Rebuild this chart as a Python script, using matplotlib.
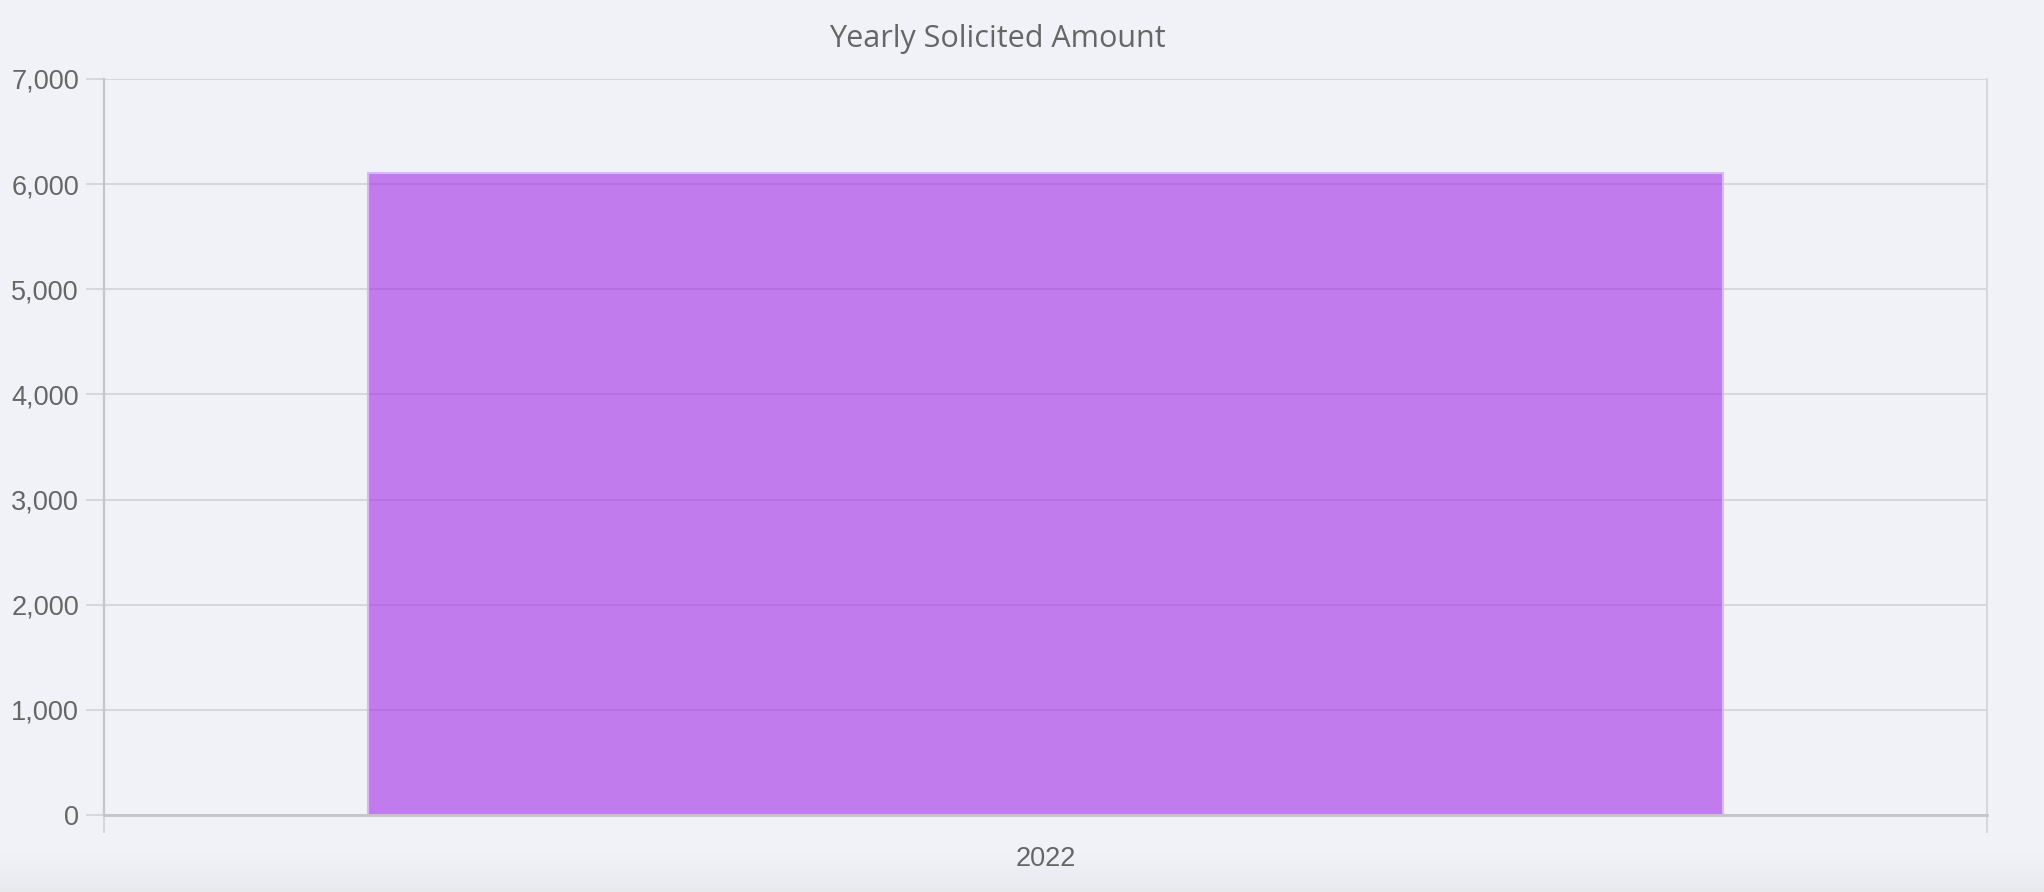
import matplotlib
matplotlib.use("Agg")
import matplotlib.pyplot as plt
import numpy as np
from matplotlib.ticker import FuncFormatter, FixedLocator

# ---- data ----
categories = ["2022"]
solicited_amount = [6105]
y_ticks = [0, 1000, 2000, 3000, 4000, 5000, 6000, 7000]
title_text = "Yearly Solicited Amount"

BG = "#f1f2f7"
TXT = "#666666"
GRID = "#d6d6dd"
AXIS = "#c4c4ca"
BAR_RGB = (161/255, 44/255, 230/255)
EDGE = "#d9b7f2"

W, H, DPI = 2044, 892, 100
fig = plt.figure(figsize=(W/DPI, H/DPI), dpi=DPI, facecolor=BG)

# bottom gradient of page background
bg_ax = fig.add_axes([0, 0, 1, 1], zorder=-10)
grad = np.ones((H, 1, 3))
top_c = np.array([241, 242, 247]) / 255
bot_c = np.array([232, 233, 237]) / 255
start = 852
for r in range(H):
    if r < start:
        grad[r, 0] = top_c
    else:
        t = (r - start) / (H - start)
        grad[r, 0] = top_c * (1 - t) + bot_c * t
bg_ax.imshow(grad, aspect="auto", extent=[0, 1, 0, 1], origin="upper")
bg_ax.axis("off")

L, R, T, B = 104, 1987, 79, 815
ax = fig.add_axes([L/W, 1 - B/H, (R-L)/W, (B-T)/H])
ax.set_facecolor("none")

x = np.arange(len(categories))
ax.bar(x, solicited_amount, width=0.72, color=(*BAR_RGB, 0.6),
       edgecolor=EDGE, linewidth=1.5, zorder=3)

ax.set_xlim(-0.5, len(categories) - 0.5)
ax.set_ylim(y_ticks[0], y_ticks[-1])

# y axis
ax.yaxis.set_major_locator(FixedLocator(y_ticks))
ax.yaxis.set_major_formatter(FuncFormatter(lambda v, p: f"{int(v):,}"))
ax.tick_params(axis="y", which="major", length=13, width=1.4, color=GRID,
               pad=5, labelsize=19.5, labelcolor=TXT)
ax.grid(axis="y", color=GRID, linewidth=1.4, zorder=0)

# x axis
ax.set_xticks(x)
ax.set_xticklabels(categories)
ax.set_xticks(np.arange(len(categories) + 1) - 0.5, minor=True)
ax.tick_params(axis="x", which="major", length=0, pad=22, labelsize=19.5, labelcolor=TXT)
ax.tick_params(axis="x", which="minor", length=13, width=1.4, color=GRID)
ax.grid(axis="x", which="minor", color=GRID, linewidth=1.4, zorder=0)

for lab in ax.get_xticklabels() + ax.get_yticklabels():
    lab.set_fontfamily("Liberation Sans")

ax.spines["top"].set_visible(False)
ax.spines["right"].set_color(GRID)
ax.spines["right"].set_linewidth(1.4)
ax.spines["left"].set_color(AXIS)
ax.spines["left"].set_linewidth(1.6)
ax.spines["bottom"].set_color(AXIS)
ax.spines["bottom"].set_linewidth(2)
ax.spines["bottom"].set_zorder(4)

fig.text(997/W, 1 - 47/H, title_text, ha="center", va="baseline",
         fontsize=22, color=TXT, family="Open Sans")

fig.savefig("out.png", dpi=DPI, facecolor=BG)
